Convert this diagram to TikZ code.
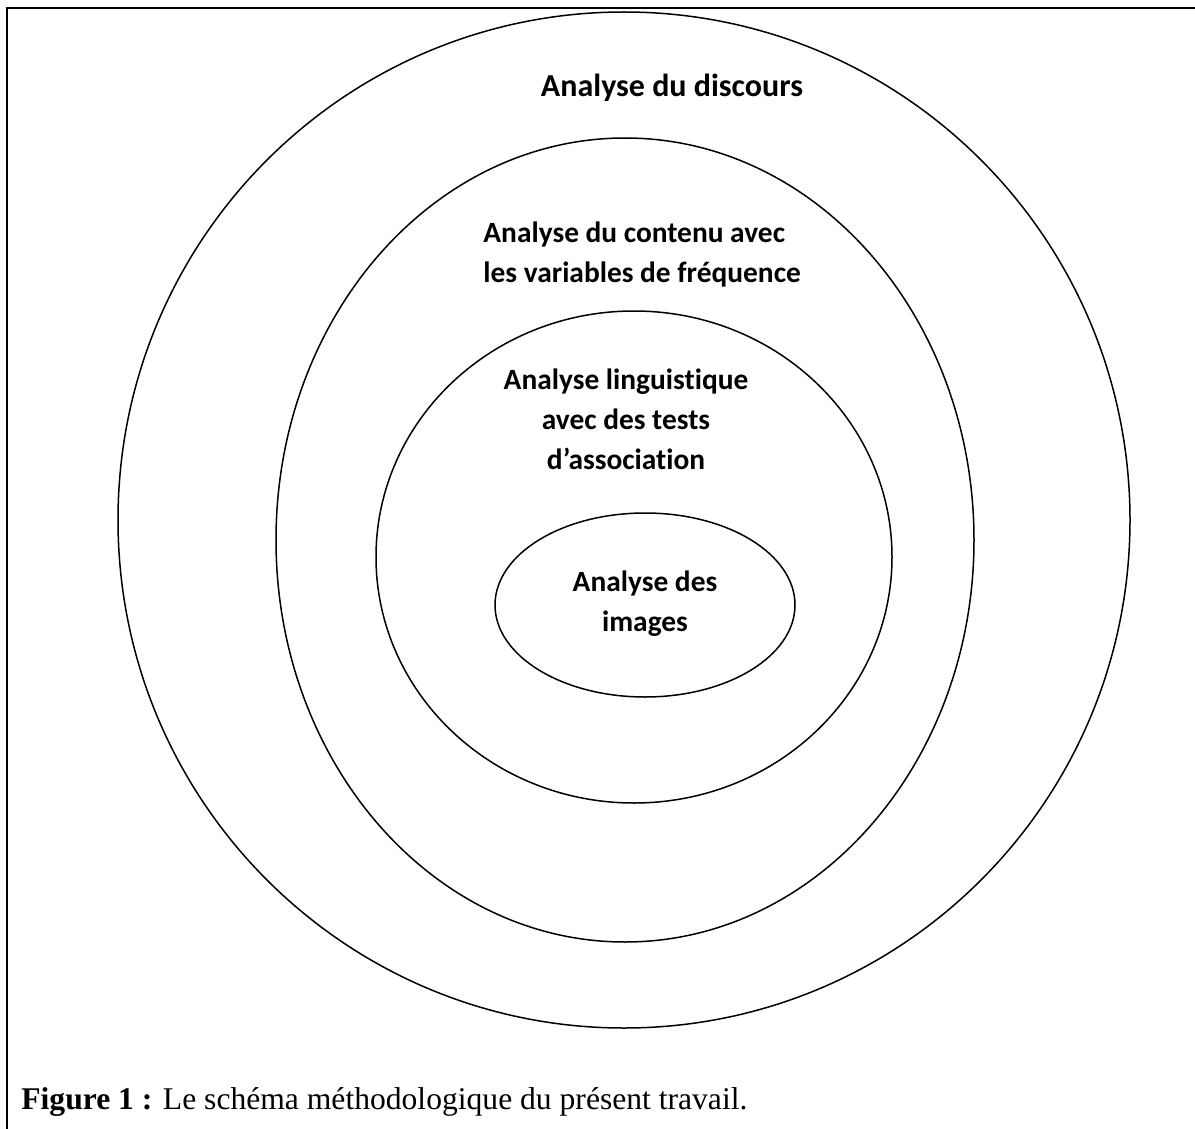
\documentclass[tikz,border=0pt]{standalone}
\usepackage{fontspec}
\setmainfont{Liberation Serif}
\newfontfamily\calib[Ligatures={NoCommon}]{Carlito}
\usetikzlibrary{shapes.geometric}
\begin{document}
\begin{tikzpicture}[x=0.5pt,y=-0.5pt,
  ring/.style={draw,ellipse,line width=0.75pt,inner sep=0pt},
  lab/.style={font=\calib\bfseries\fontsize{14.7}{20}\selectfont,inner sep=0pt}]
\useasboundingbox (0,0) rectangle (1195,1129);
\draw[line width=1.15pt] (7,1129) -- (7,8) -- (1195,8);
\node[ring,minimum width=506pt,minimum height=508pt] (outer) at (624,520) {};
\node[ring,minimum width=349pt,minimum height=402pt] (second) at (625,540) {};
\node[ring,minimum width=258pt,minimum height=246pt] (third) at (634,557) {};
\node[ring,minimum width=150pt,minimum height=92pt] (inner) at (645,605) {};
\node[lab,font=\calib\bfseries\fontsize{16}{20}\selectfont] (t1) at (672,88) {Analyse du discours};
\node[lab,align=left,anchor=west] (t2) at (483,254) {Analyse du contenu avec\\les variables de fréquence};
\node[lab,align=center] (t3) at (626,419) {Analyse linguistique\\avec des tests\\d’association};
\node[lab,align=center] (t4) at (645,604) {Analyse des\\images};
\node[anchor=base west,inner sep=0pt,font=\fontsize{15.8}{18}\selectfont] (cap) at (21,1109) {\textbf{Figure 1 :} Le schéma méthodologique du présent travail.};
\end{tikzpicture}
\end{document}
